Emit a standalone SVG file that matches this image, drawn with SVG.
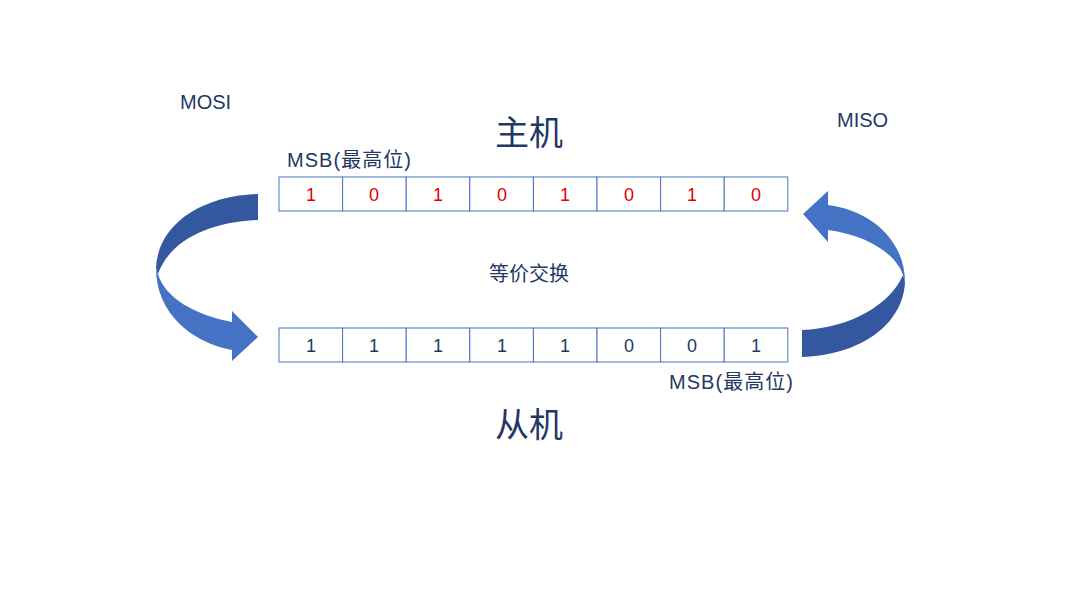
<svg xmlns="http://www.w3.org/2000/svg" width="1079" height="607" viewBox="0 0 1079 607">
<style>
.t{font-family:"Liberation Sans","Noto Sans CJK SC",sans-serif;fill:#1f3864}
.c{fill:#fff;stroke:#4a72c0;stroke-width:1}
.d{fill:#34589f}
.l{fill:#4472c4}
</style>
<rect width="1079" height="607" fill="#fff"/>
<text class="t" x="180" y="109" font-size="20">MOSI</text>
<text class="t" x="837" y="127" font-size="20">MISO</text>
<text class="t" x="529" y="145" font-size="34" text-anchor="middle">主机</text>
<text class="t" x="529" y="437" font-size="34" text-anchor="middle">从机</text>
<text class="t" x="287" y="167" font-size="20" textLength="124">MSB(最高位)</text>
<text class="t" x="669" y="389" font-size="20" textLength="124">MSB(最高位)</text>
<text class="t" x="529" y="281" font-size="20" text-anchor="middle">等价交换</text>
<g id="master">
<rect class="c" x="279" y="177" width="63.6" height="34"/><rect class="c" x="342.6" y="177" width="63.6" height="34"/><rect class="c" x="406.2" y="177" width="63.6" height="34"/><rect class="c" x="469.8" y="177" width="63.6" height="34"/><rect class="c" x="533.4" y="177" width="63.6" height="34"/><rect class="c" x="597" y="177" width="63.6" height="34"/><rect class="c" x="660.6" y="177" width="63.6" height="34"/><rect class="c" x="724.2" y="177" width="63.6" height="34"/>
<g class="t" font-size="18" text-anchor="middle" style="fill:#e00000">
<text x="311" y="201">1</text><text x="374" y="201">0</text><text x="438" y="201">1</text><text x="502" y="201">0</text><text x="565" y="201">1</text><text x="629" y="201">0</text><text x="692" y="201">1</text><text x="756" y="201">0</text>
</g></g>
<g id="slave">
<rect class="c" x="279" y="328" width="63.6" height="34"/><rect class="c" x="342.6" y="328" width="63.6" height="34"/><rect class="c" x="406.2" y="328" width="63.6" height="34"/><rect class="c" x="469.8" y="328" width="63.6" height="34"/><rect class="c" x="533.4" y="328" width="63.6" height="34"/><rect class="c" x="597" y="328" width="63.6" height="34"/><rect class="c" x="660.6" y="328" width="63.6" height="34"/><rect class="c" x="724.2" y="328" width="63.6" height="34"/>
<g class="t" font-size="18" text-anchor="middle">
<text x="311" y="352">1</text><text x="374" y="352">1</text><text x="438" y="352">1</text><text x="502" y="352">1</text><text x="565" y="352">1</text><text x="629" y="352">0</text><text x="692" y="352">0</text><text x="756" y="352">1</text>
</g></g>
<g id="connectors">
<path class="d" d="M258,194 C200,196 158,225 156,268 L158,274 C170,240 210,222 258,220 Z"/>
<path class="l" d="M156,268 C156,312 190,342 232,350 L232,361 L258,337 L232,311 L232,322 C195,315 165,298 158,274 Z"/>
<path class="d" d="M802,357 C860,355 903,325 905,282 L903,275 C890,305 850,328 802,330 Z"/>
<path class="l" d="M905,282 C905,240 870,210 828,205 L828,191 L803,214 L828,242 L828,230 C865,235 895,252 903,275 Z"/>
</g>
</svg>
